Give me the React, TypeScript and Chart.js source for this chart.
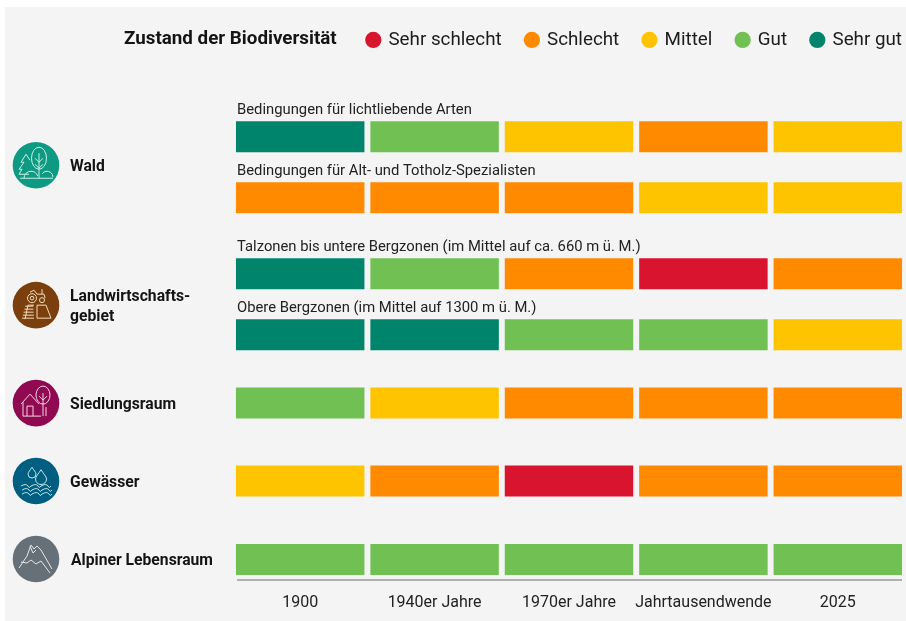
import React, { useEffect, useRef } from "react";
import { Chart, registerables } from "chart.js";

Chart.register(...registerables);

const periods = ["1900", "1940er Jahre", "1970er Jahre", "Jahrtausendwende", "2025"];
const statusNames = ["Sehr schlecht", "Schlecht", "Mittel", "Gut", "Sehr gut"];
const statusColors = ["#d9142e", "#ff8a00", "#ffc400", "#70c053", "#00856c"];

// status per period: 0 = Sehr schlecht ... 4 = Sehr gut
const waldLicht = [4, 3, 2, 1, 2];
const waldTotholz = [1, 1, 1, 2, 2];
const agrarTal = [4, 3, 1, 0, 1];
const agrarBerg = [4, 4, 3, 3, 2];
const siedlung = [3, 2, 1, 1, 1];
const gewaesser = [2, 1, 0, 1, 1];
const alpin = [3, 3, 3, 3, 3];

const rowNames = [
  "Bedingungen für lichtliebende Arten",
  "Bedingungen für Alt- und Totholz-Spezialisten",
  "Talzonen bis untere Bergzonen (im Mittel auf ca. 660 m ü. M.)",
  "Obere Bergzonen (im Mittel auf 1300 m ü. M.)",
  "Siedlungsraum",
  "Gewässer",
  "Alpiner Lebensraum",
];
const rowStatus = [waldLicht, waldTotholz, agrarTal, agrarBerg, siedlung, gewaesser, alpin];
const rowSlots = [136.5, 197.5, 273.5, 334.5, 403, 481, 559.5];
const rowHasCaption = [true, true, true, true, false, false, false];

const groupLabels = [["Wald"], ["Landwirtschafts-", "gebiet"], ["Siedlungsraum"], ["Gewässer"], ["Alpiner Lebensraum"]];
const groupSlots = [165, 305, 403, 481, 559];
const groupColors = ["#0e9a82", "#7a3f0c", "#8f0a50", "#005f80", "#667079"];
const groupLine = ["#c9f0e6", "#f3dcb8", "#f6d5e4", "#bfe6ee", "#e4e7e9"];

const FONT = "Roboto, 'Noto Sans', sans-serif";
const HALF_BAR = 15.5;

type Ctx = CanvasRenderingContext2D;

function poly(ctx: Ctx, pts: number[][], close = false) {
  ctx.beginPath();
  pts.forEach((p, i) => (i ? ctx.lineTo(p[0], p[1]) : ctx.moveTo(p[0], p[1])));
  if (close) ctx.closePath();
  ctx.stroke();
}

function iconWald(ctx: Ctx) {
  ctx.beginPath();
  ctx.ellipse(3, -7, 7.5, 11, 0, 0, Math.PI * 2);
  ctx.stroke();
  poly(ctx, [[3, -12], [3, 13]]);
  poly(ctx, [[-1, -7], [3, -3], [7, -7]]);
  poly(ctx, [[-1, -1], [3, 3], [7, -1]]);
  poly(ctx, [[-10, -11], [-15, -3], [-12, -3], [-17, 4], [-14, 4], [-17, 9], [-7, 9]]);
  poly(ctx, [[-10, -11], [-6, -5]]);
  ctx.beginPath();
  ctx.arc(-5, 13, 7, Math.PI, Math.PI * 1.9);
  ctx.stroke();
  ctx.beginPath();
  ctx.arc(11, 12, 6, Math.PI * 1.2, 0);
  ctx.stroke();
  poly(ctx, [[-16, 13], [17, 13]]);
}

function iconAgrar(ctx: Ctx) {
  ctx.beginPath();
  ctx.arc(-4, -7, 4.5, 0, Math.PI * 2);
  ctx.stroke();
  ctx.beginPath();
  ctx.arc(-4, -7, 1.8, 0, Math.PI * 2);
  ctx.stroke();
  ctx.beginPath();
  ctx.arc(6, -5, 2.5, 0, Math.PI * 2);
  ctx.stroke();
  poly(ctx, [[-6, -13], [-2, -15], [1, -11], [8, -11], [9, -7]]);
  poly(ctx, [[6, -11], [6, -16]]);
  poly(ctx, [[-11, 14], [-8, 0], [-2, -0]]);
  for (let i = 0; i < 5; i++) poly(ctx, [[-14 + i * 0.8, 13 - i * 3], [-2 - i * 0.2, 13 - i * 3]]);
  poly(ctx, [[1, 0], [10, 0], [15, 13], [1, 13]], true);
}

function iconSiedlung(ctx: Ctx) {
  poly(ctx, [[-15, 1], [-6, -9], [3, 1]]);
  poly(ctx, [[-13, -1], [-13, 13], [5, 13]]);
  poly(ctx, [[-9, 13], [-9, 3], [-3, 3], [-3, 13]]);
  ctx.beginPath();
  ctx.ellipse(7, -8, 7, 9, 0, 0, Math.PI * 2);
  ctx.stroke();
  poly(ctx, [[7, -10], [7, 13]]);
  poly(ctx, [[3, -7], [7, -3], [11, -7]]);
  poly(ctx, [[10, 13], [10, 4]]);
}

function iconGewaesser(ctx: Ctx) {
  const drop = (x: number, y: number, r: number) => {
    ctx.beginPath();
    ctx.moveTo(x, y - r * 1.7);
    ctx.bezierCurveTo(x + r * 0.4, y - r, x + r, y - r * 0.5, x + r, y);
    ctx.arc(x, y, r, 0, Math.PI);
    ctx.bezierCurveTo(x - r, y - r * 0.5, x - r * 0.4, y - r, x, y - r * 1.7);
    ctx.stroke();
  };
  drop(-4, -7, 4);
  drop(5, -2, 5.5);
  [5, 9, 13].forEach((y, row) => {
    ctx.beginPath();
    const x0 = row === 0 ? -15 : -14;
    ctx.moveTo(x0, y);
    for (let i = 0; i < 3; i++) {
      ctx.quadraticCurveTo(x0 + 5 + i * 10, y - 3, x0 + 5 + i * 10 + 2, y);
      ctx.quadraticCurveTo(x0 + 8 + i * 10, y + 3, x0 + 10 + i * 10, y);
    }
    ctx.stroke();
  });
}

function iconAlpin(ctx: Ctx) {
  poly(ctx, [[-17, 9], [-9, -3], [-5, -14], [-2, -10], [1, -13], [5, -9], [16, 10]]);
  poly(ctx, [[-15, 3], [-9, 4], [-5, 1], [0, 5], [5, 2], [14, 14]]);
  poly(ctx, [[-6, -13], [-3, -6], [0, -9]]);
}

const icons = [iconWald, iconAgrar, iconSiedlung, iconGewaesser, iconAlpin];

const decor = {
  id: "decor",
  afterLayout(chart: any) {
    // the legend keeps a trailing padding; let its last label end at the column edge
    chart.legend.right = 926.5;
  },
  beforeDraw(chart: any) {
    const { ctx, width, height } = chart;
    ctx.save();
    ctx.fillStyle = "#ffffff";
    ctx.fillRect(0, 0, width, height);
    ctx.fillStyle = "#f4f4f4";
    ctx.fillRect(5, 7, width - 5, height - 7);
    ctx.restore();
  },
  afterDraw(chart: any) {
    const { ctx } = chart;
    const y = chart.scales.y;
    ctx.save();
    ctx.textBaseline = "middle";
    ctx.textAlign = "left";

    ctx.fillStyle = "#141414";
    ctx.font = `bold 18.8px ${FONT}`;
    ctx.fillText("Zustand der Biodiversität", 124, 39);

    ctx.fillStyle = "#222222";
    ctx.font = `14.8px ${FONT}`;
    rowNames.forEach((n, i) => {
      if (rowHasCaption[i]) ctx.fillText(n, 237, y.getPixelForValue(rowSlots[i]) - 26);
    });

    // baseline below the last row, spanning the columns
    ctx.strokeStyle = "#9a9a9a";
    ctx.lineWidth = 1.5;
    const base = chart.chartArea.bottom;
    poly(ctx, [[237, base], [902, base]]);

    groupLabels.forEach((lines, i) => {
      const cy = y.getPixelForValue(groupSlots[i]);
      ctx.beginPath();
      ctx.fillStyle = groupColors[i];
      ctx.arc(36, cy, 23.3, 0, Math.PI * 2);
      ctx.fill();
      ctx.save();
      ctx.translate(36, cy);
      ctx.strokeStyle = groupLine[i];
      ctx.lineWidth = 1;
      ctx.lineJoin = "round";
      icons[i](ctx);
      ctx.restore();

      ctx.fillStyle = "#141414";
      ctx.font = `bold 15.7px ${FONT}`;
      const x = i === 4 ? 71 : 70;
      const lh = 19.5;
      lines.forEach((l, k) => {
        ctx.fillText(l, x, cy + 2 - (lines.length - 1) * lh / 2 + k * lh);
      });
    });
    ctx.restore();
  },
};

export default function App() {
  const ref = useRef<HTMLCanvasElement>(null);
  useEffect(() => {
    if (!ref.current) return;
    const chart = new Chart(ref.current, {
      type: "bar",
      data: {
        labels: periods,
        datasets: rowNames.map((name, r) => ({
          label: name,
          data: periods.map(() => [rowSlots[r] - HALF_BAR, rowSlots[r] + HALF_BAR]),
          backgroundColor: rowStatus[r].map((s) => statusColors[s]),
          borderWidth: 0,
          grouped: false,
          barPercentage: 0.956,
          categoryPercentage: 1,
        })),
      } as any,
      options: {
        responsive: false,
        animation: false,
        layout: { padding: { left: 233, right: 1, top: 6, bottom: 0 } },
        plugins: {
          tooltip: { enabled: false },
          legend: {
            position: "top",
            align: "end",
            onClick: () => {},
            labels: {
              usePointStyle: true,
              pointStyle: "circle",
              boxHeight: 11.5,
              boxWidth: 11.5,
              padding: 24.5,
              color: "#1c1c1c",
              font: { family: FONT, size: 18.8 },
              generateLabels: () =>
                statusNames.map((text, i) => ({
                  text,
                  fillStyle: statusColors[i],
                  strokeStyle: statusColors[i],
                  lineWidth: 0,
                  pointStyle: "circle",
                  hidden: false,
                  fontColor: "#1c1c1c",
                })),
            },
          },
        },
        scales: {
          x: {
            grid: { display: false },
            border: { display: false },
            afterFit: (s: any) => {
              s.height = 41;
            },
            ticks: { color: "#222222", font: { family: FONT, size: 16 }, padding: 5, maxRotation: 0, autoSkip: false },
          },
          y: { display: false, reverse: true, min: 59, max: 580 },
        },
      } as any,
      plugins: [decor as any],
    });
    return () => chart.destroy();
  }, []);
  return (
    <canvas
      ref={ref}
      width={906}
      height={621}
      style={{ position: "fixed", left: 0, top: 0, width: 906, height: 621, display: "block" }}
    />
  );
}
